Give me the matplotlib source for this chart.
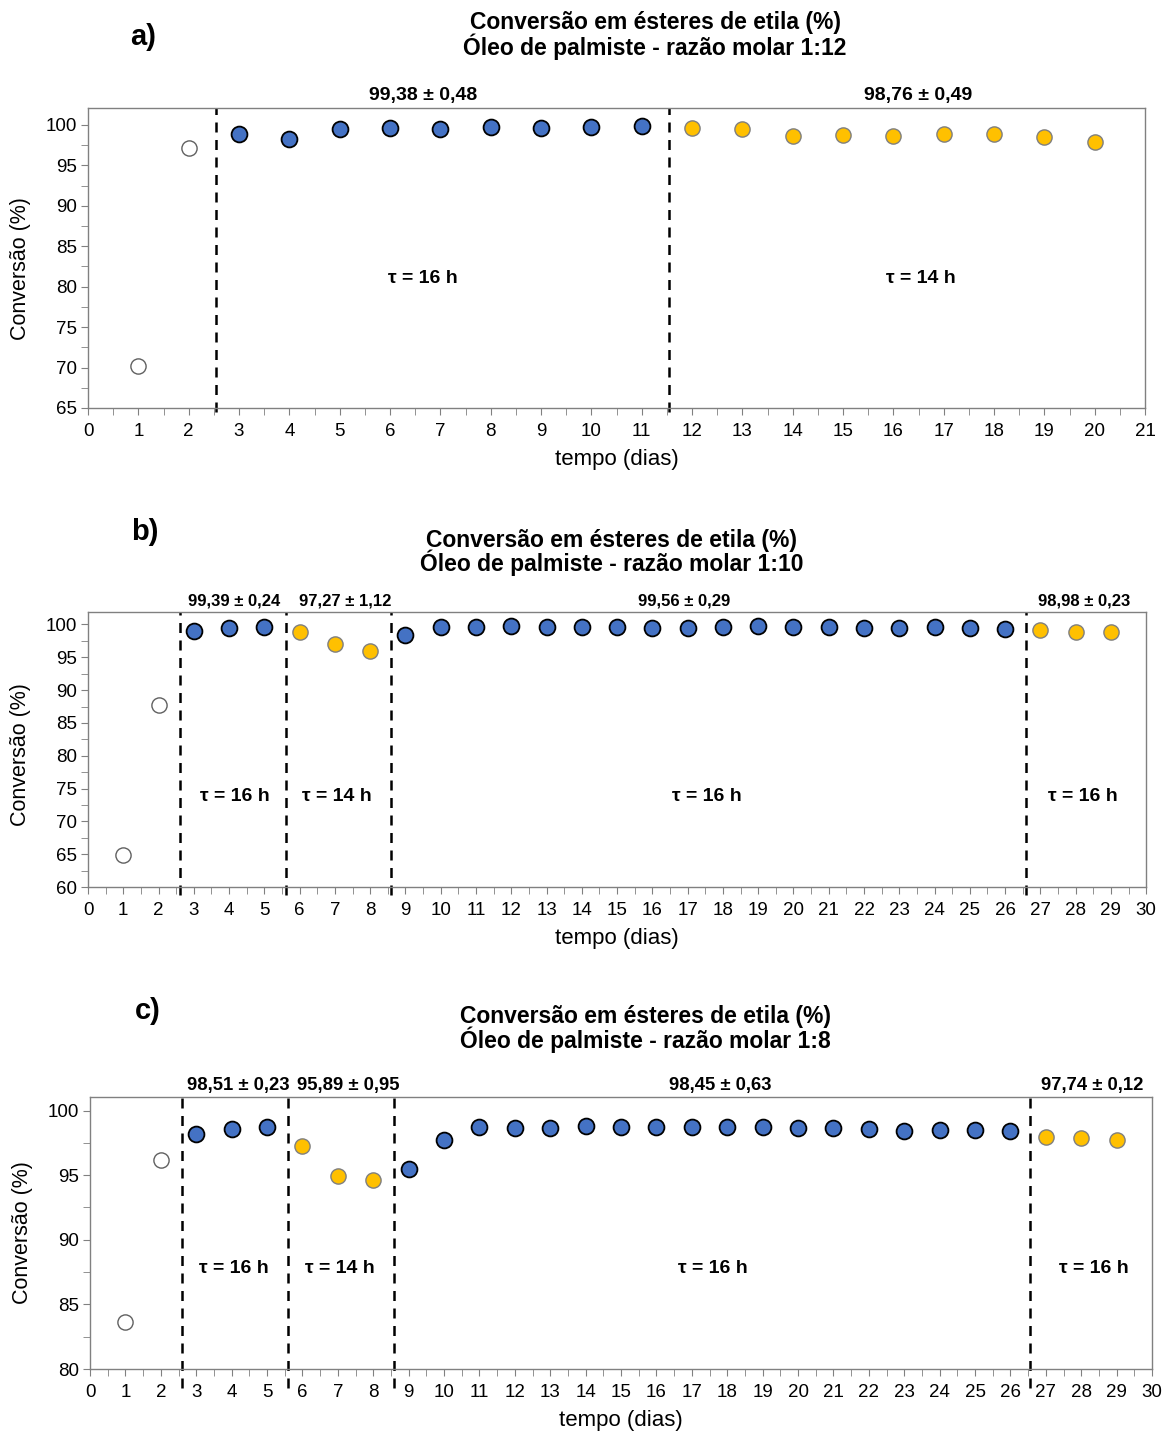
import matplotlib
matplotlib.use("Agg")
import matplotlib.pyplot as plt
from matplotlib.ticker import MultipleLocator

plt.rcParams["font.family"] = ["Liberation Sans", "DejaVu Sans"]

# --- painel a) razão molar 1:12 ---
a_dias_ini = [1, 2]
a_conv_ini = [70.2, 97.2]
a_dias_16h = [3, 4, 5, 6, 7, 8, 9, 10, 11]
a_conv_16h = [98.85, 98.27, 99.46, 99.63, 99.55, 99.75, 99.63, 99.75, 99.84]
a_dias_14h = [12, 13, 14, 15, 16, 17, 18, 19, 20]
a_conv_14h = [99.59, 99.46, 98.6, 98.76, 98.68, 98.89, 98.85, 98.52, 97.86]
a_cortes = [2.55, 11.55]
a_medias = ["99,38 ± 0,48", "98,76 ± 0,49"]
a_tau = ["τ = 16 h", "τ = 14 h"]

# --- painel b) razão molar 1:10 ---
b_dias_ini = [1, 2]
b_conv_ini = [64.95, 87.75]
b_dias_azul = [3, 4, 5, 9, 10, 11, 12, 13, 14, 15, 16, 17, 18, 19, 20, 21, 22, 23, 24, 25, 26]
b_conv_azul = [99.05, 99.45, 99.6, 98.45, 99.55, 99.55, 99.7, 99.65, 99.55, 99.68,
               99.52, 99.52, 99.66, 99.76, 99.66, 99.66, 99.52, 99.52, 99.56, 99.42, 99.32]
b_dias_amarelo = [6, 7, 8, 27, 28, 29]
b_conv_amarelo = [98.8, 97.0, 96.0, 99.2, 98.85, 98.85]
b_cortes = [2.6, 5.6, 8.6, 26.6]
b_medias = ["99,39 ± 0,24", "97,27 ± 1,12", "99,56 ± 0,29", "98,98 ± 0,23"]
b_tau = ["τ = 16 h", "τ = 14 h", "τ = 16 h", "τ = 16 h"]

# --- painel c) razão molar 1:8 ---
c_dias_ini = [1, 2]
c_conv_ini = [83.6, 96.14]
c_dias_azul = [3, 4, 5, 9, 10, 11, 12, 13, 14, 15, 16, 17, 18, 19, 20, 21, 22, 23, 24, 25, 26]
c_conv_azul = [98.2, 98.56, 98.74, 95.45, 97.76, 98.69, 98.64, 98.64, 98.79, 98.69,
               98.74, 98.69, 98.69, 98.69, 98.64, 98.64, 98.59, 98.43, 98.53, 98.48, 98.43]
c_dias_amarelo = [6, 7, 8, 27, 28, 29]
c_conv_amarelo = [97.25, 94.91, 94.65, 97.99, 97.84, 97.74]
c_cortes = [2.6, 5.6, 8.6, 26.55]
c_medias = ["98,51 ± 0,23", "95,89 ± 0,95", "98,45 ± 0,63", "97,74 ± 0,12"]
c_tau = ["τ = 16 h", "τ = 14 h", "τ = 16 h", "τ = 16 h"]

AZUL = "#4472C4"
AMARELO = "#FFC000"
CINZA = "#808080"

W, H = 1166, 1440


def montar_painel(ax, xmax, ylim, ini, azul, amarelo, cortes, medias, pos_medias,
                  fs_medias, tau, pos_tau, y_tau, ext_corte, y_rotulo):
    ax.scatter(ini[0], ini[1], s=120, facecolor="white", edgecolor="#606060",
               linewidth=1.0, zorder=3)
    ax.scatter(azul[0], azul[1], s=130, facecolor=AZUL, edgecolor="black",
               linewidth=1.3, zorder=3)
    ax.scatter(amarelo[0], amarelo[1], s=120, facecolor=AMARELO, edgecolor="#7F7F7F",
               linewidth=1.0, zorder=3)

    for xc in cortes:
        ax.axvline(xc, ymin=-ext_corte, ymax=1.0, color="black", linestyle=(0, (4, 3)),
                   linewidth=1.8, clip_on=False, zorder=2)

    ax.set_xlim(0, xmax)
    ax.set_ylim(*ylim)
    ax.xaxis.set_major_locator(MultipleLocator(1))
    ax.xaxis.set_minor_locator(MultipleLocator(0.5))
    ax.yaxis.set_major_locator(MultipleLocator(5))
    ax.yaxis.set_minor_locator(MultipleLocator(2.5))
    ax.tick_params(axis="both", which="both", direction="out", color=CINZA, labelsize=13.5)
    ax.tick_params(axis="x", which="both", length=5, pad=6)
    ax.tick_params(axis="y", which="both", length=5, pad=3)
    for s in ax.spines.values():
        s.set_color(CINZA)
        s.set_linewidth(1.0)

    ax.set_ylabel("Conversão (%)", fontsize=15.5)
    ax.set_xlabel("tempo (dias)", fontsize=16, labelpad=6)
    ax.yaxis.set_label_coords(-0.054, y_rotulo)

    for txt, xp in zip(medias, pos_medias):
        ax.text(xp, 1.012, txt, ha="center", va="bottom", fontsize=fs_medias,
                fontweight="bold", transform=ax.get_xaxis_transform())
    for txt, xp in zip(tau, pos_tau):
        ax.text(xp, y_tau, txt, ha="center", va="center", fontsize=14,
                fontweight="bold", transform=ax.get_xaxis_transform())


def titulo(fig, letra, razao, x_letra, y_letra, x_tit, y_lin1, y_lin2):
    fig.text(x_letra / W, 1 - y_letra / H, letra, fontsize=21, fontweight="bold",
             ha="center", va="center")
    fig.text(x_tit / W, 1 - y_lin1 / H, "Conversão em ésteres de etila (%)", fontsize=16.5,
             fontweight="bold", ha="center", va="center")
    fig.text(x_tit / W, 1 - y_lin2 / H, razao, fontsize=16.5,
             fontweight="bold", ha="center", va="center")


fig = plt.figure(figsize=(W / 100, H / 100), dpi=100)

ax_a = fig.add_axes([0.0755, 0.7167, 0.9065, 0.2083])
ax_b = fig.add_axes([0.0755, 0.3840, 0.9075, 0.1910])
ax_c = fig.add_axes([0.0772, 0.0493, 0.9108, 0.1889])

montar_painel(ax_a, 21, (65, 102.1),
              (a_dias_ini, a_conv_ini), (a_dias_16h, a_conv_16h), (a_dias_14h, a_conv_14h),
              a_cortes, a_medias, [6.65, 16.5], 14, a_tau, [6.65, 16.55], 0.43, 0.015, 0.465)
montar_painel(ax_b, 30, (60, 101.9),
              (b_dias_ini, b_conv_ini), (b_dias_azul, b_conv_azul), (b_dias_amarelo, b_conv_amarelo),
              b_cortes, b_medias, [4.15, 7.3, 16.9, 28.25], 12, b_tau,
              [4.15, 7.05, 17.55, 28.2], 0.33, 0.03, 0.48)
montar_painel(ax_c, 30, (80, 101.05),
              (c_dias_ini, c_conv_ini), (c_dias_azul, c_conv_azul), (c_dias_amarelo, c_conv_amarelo),
              c_cortes, c_medias, [4.2, 7.3, 17.8, 28.3], 13.3, c_tau,
              [4.05, 7.05, 17.6, 28.35], 0.37, 0.07, 0.5)

titulo(fig, "a)", "Óleo de palmiste - razão molar 1:12", 143, 37, 655, 22, 47)
titulo(fig, "b)", "Óleo de palmiste - razão molar 1:10", 145, 532, 612, 540, 563)
titulo(fig, "c)", "Óleo de palmiste - razão molar 1:8", 148, 1011, 645, 1016, 1040)

fig.savefig("out.png", dpi=100)
